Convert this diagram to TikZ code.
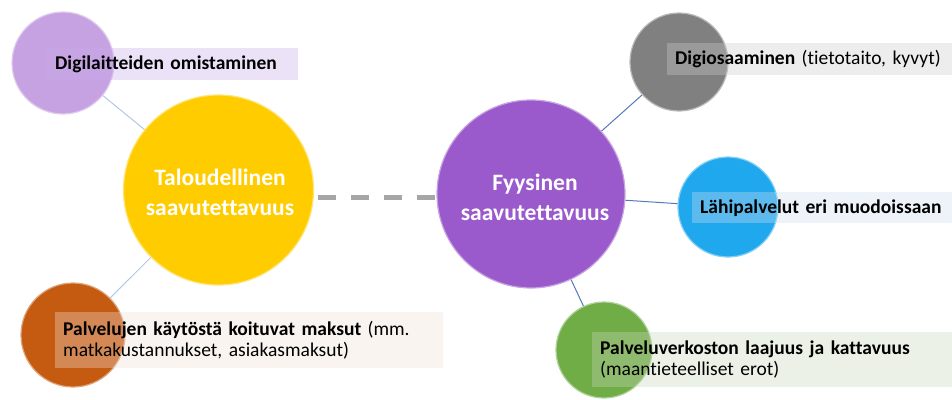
\documentclass[tikz,border=0pt]{standalone}
\usepackage{fontspec}
\setmainfont{Carlito}[Ligatures=NoCommon]
\definecolor{cyellow}{HTML}{FFCC00}
\definecolor{cpurple}{HTML}{9B5ACC}
\definecolor{clav}{HTML}{C6A2E2}
\definecolor{cgrey}{HTML}{808080}
\definecolor{cblue}{HTML}{20A8EE}
\definecolor{cgreen}{HTML}{70AD47}
\definecolor{corange}{HTML}{C55A11}
\definecolor{linelight}{HTML}{B4C7E7}
\definecolor{linedark}{HTML}{5479B8}
\definecolor{dashgrey}{HTML}{A6A6A6}
\definecolor{blav}{RGB}{201,172,235}
\definecolor{borange}{RGB}{238,224,212}
\definecolor{bgrey}{RGB}{204,204,204}
\definecolor{bblue}{RGB}{206,221,238}
\definecolor{bgreen}{RGB}{198,215,184}
\begin{document}
\begin{tikzpicture}[x=1pt,y=-1pt,
  bubble/.style={circle, inner sep=0pt, fill=#1, draw=#1!55!white, line width=1.2pt},
  maintext/.style={text=white, align=center, font=\fontsize{23.5}{30}\selectfont\bfseries},
  lbl/.style={rectangle, anchor=north west, inner xsep=8pt, inner ysep=0pt,
    fill=#1, fill opacity=0.35, text opacity=1, align=left,
    font=\fontsize{19.5}{20.5}\selectfont},
  lightlink/.style={draw=linelight, line width=1pt},
  darklink/.style={draw=linedark, line width=1pt}]
\useasboundingbox (0,0) rectangle (952,399);

% main circles
\node[bubble=cyellow, minimum size=190pt] (talous) at (218.5,190) {};
\node[bubble=cpurple, minimum size=188pt] (fyys) at (531,194) {};
\node[maintext] (taloustxt) at (220,192) {Taloudellinen\\saavutettavuus};
\node[maintext] (fyystxt) at (535,197) {Fyysinen\\saavutettavuus};

% small circles
\node[bubble=clav, minimum size=102pt] (digil) at (63,63) {};
\node[bubble=corange, minimum size=104pt] (maksut) at (73,335) {};
\node[bubble=cgrey, minimum size=98pt] (digio) at (679,62) {};
\node[bubble=cblue, minimum size=100pt] (lahi) at (728,207) {};
\node[bubble=cgreen, minimum size=96pt] (verkko) at (604,350) {};

% connectors
\coordinate (dashy) at (0,197);
\draw[dashgrey, line width=5pt, dash pattern=on 18pt off 15pt, dash phase=-4pt]
  (talous.east |- dashy) -- (fyys.west |- dashy);
\draw[lightlink] (talous) -- (digil);
\draw[lightlink] (talous) -- (maksut);
\draw[darklink] (fyys) -- (digio);
\draw[darklink] (fyys) -- (lahi);
\draw[darklink] (fyys) -- (verkko);

% labels
\node[lbl=blav, text width=235pt, minimum height=32pt] (digiltxt) at (47,48) {\textbf{Digilaitteiden omistaminen}};
\node[lbl=borange, text width=372pt, minimum height=56pt] (maksuttxt) at (55,312) {\textbf{Palvelujen käytöstä koituvat maksut} (mm.\\matkakustannukset, asiakasmaksut)};
\node[lbl=bgrey, text width=290pt, minimum height=32pt] (digiotxt) at (667,43) {\textbf{Digiosaaminen} (tietotaito, kyvyt)};
\node[lbl=bblue, text width=260pt, minimum height=31pt] (lahitxt) at (692,192) {\textbf{Lähipalvelut eri muodoissaan}};
\node[lbl=bgreen, text width=350pt, minimum height=55pt] (verkkotxt) at (592,332) {\textbf{Palveluverkoston laajuus ja kattavuus}\\(maantieteelliset erot)};
\end{tikzpicture}
\end{document}
